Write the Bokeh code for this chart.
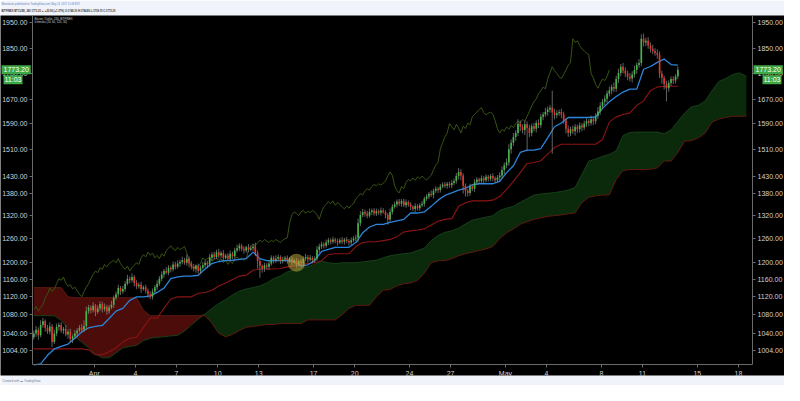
import numpy as np
from bokeh.plotting import figure
from bokeh.models import FixedTicker, PrintfTickFormatter, LogAxis, Label, Range1d, Title
from bokeh.embed import file_html
from bokeh.resources import INLINE

# ------------------------------------------------------------------ data
# BITFINEX BTCUSD, 240-minute candles, first candle opens Mar 27 12:00
first_open = 1032.0
closes = [
    1040, 1048, 1036, 1058, 1066, 1052, 1044, 1055, 1022, 1040,
    1054, 1058, 1046, 1050, 1038, 1044, 1028, 1034, 1040, 1046,
    1052, 1048, 1056, 1088, 1096, 1090, 1100, 1086, 1094, 1104,
    1092, 1098, 1088, 1096, 1102, 1118, 1126, 1140, 1132, 1138,
    1150, 1162, 1158, 1166, 1152, 1144, 1148, 1138, 1142, 1134,
    1126, 1120, 1132, 1142, 1150, 1162, 1172, 1180, 1176, 1188,
    1184, 1196, 1190, 1198, 1202, 1206, 1200, 1210, 1198, 1190,
    1184, 1192, 1180, 1188, 1194, 1200, 1196, 1212, 1220, 1214,
    1226, 1218, 1224, 1212, 1218, 1210, 1222, 1216, 1230, 1236,
    1242, 1234, 1230, 1238, 1232, 1236, 1240, 1224, 1204, 1192,
    1186, 1194, 1190, 1198, 1212, 1206, 1210, 1214, 1204, 1208,
    1212, 1206, 1210, 1200, 1206, 1196, 1204, 1198, 1210, 1214,
    1208, 1212, 1206, 1210, 1232, 1240, 1246, 1242, 1250, 1256,
    1252, 1258, 1254, 1250, 1256, 1252, 1258, 1254, 1250, 1256,
    1260, 1262, 1300, 1322, 1330, 1326, 1320, 1330, 1334, 1326,
    1332, 1328, 1334, 1330, 1322, 1310, 1330, 1344, 1350, 1358,
    1352, 1360, 1348, 1356, 1350, 1344, 1338, 1346, 1340, 1348,
    1352, 1366, 1372, 1380, 1376, 1388, 1394, 1390, 1400, 1406,
    1402, 1408, 1404, 1410, 1416, 1430, 1442, 1432, 1402, 1388,
    1382, 1400, 1394, 1412, 1420, 1416, 1424, 1418, 1428, 1422,
    1430, 1424, 1418, 1426, 1432, 1448, 1462, 1470, 1510, 1530,
    1548, 1560, 1590, 1580, 1570, 1588, 1576, 1560, 1582, 1574,
    1592, 1586, 1612, 1620, 1628, 1636, 1642, 1626, 1618, 1624,
    1628, 1620, 1600, 1574, 1560, 1572, 1566, 1580, 1572, 1584,
    1578, 1590, 1598, 1592, 1604, 1598, 1614, 1630, 1648, 1662,
    1672, 1690, 1700, 1712, 1706, 1740, 1762, 1784, 1770, 1760,
    1748, 1742, 1756, 1772, 1790, 1798, 1888, 1874, 1880, 1862,
    1850, 1842, 1834, 1828, 1760, 1744, 1722, 1708, 1726, 1740,
    1735, 1749.3, 1773.2,
]
wick_up = [
    6, 8, 5, 10, 7, 4, 6, 9, 5, 8,
    7, 5, 6, 4, 8, 5, 6, 4, 7, 5,
    6, 8, 12, 10, 6, 5, 8, 4, 7, 6,
    5, 7, 4, 6, 9, 5, 6, 8, 5, 7,
    6, 9, 5, 8, 4, 6, 5, 7, 4, 6,
    5, 6, 7, 5, 8, 6, 7, 5, 9, 6,
    5, 7, 6, 8, 5, 9, 6, 10, 5, 6,
    7, 4, 6, 5, 8, 6, 5, 9, 6, 7,
    6, 8, 5, 7, 4, 6, 8, 5, 7, 9,
    6, 5, 7, 4, 8, 6, 7, 10, 6, 5,
    4, 6, 5, 7, 6, 5, 8, 6, 4, 7,
    5, 6, 4, 7, 5, 6, 4, 5, 6, 8,
    5, 7, 4, 6, 9, 7, 6, 5, 8, 6,
    5, 7, 4, 6, 5, 8, 4, 6, 5, 7,
    6, 8, 12, 10, 8, 6, 7, 9, 5, 6,
    7, 5, 8, 6, 4, 5, 9, 7, 8, 6,
    7, 5, 6, 8, 5, 6, 4, 7, 5, 6,
    8, 6, 7, 5, 9, 6, 7, 5, 8, 6,
    7, 5, 6, 8, 7, 9, 12, 8, 6, 7,
    5, 8, 6, 9, 7, 5, 8, 6, 7, 5,
    6, 8, 5, 7, 9, 10, 8, 12, 15, 10,
    12, 9, 14, 10, 8, 12, 9, 10, 8, 11,
    9, 12, 10, 8, 14, 10, 9, 58, 12, 10,
    8, 11, 9, 7, 10, 8, 12, 9, 7, 10,
    8, 10, 9, 7, 12, 8, 10, 14, 12, 10,
    12, 10, 14, 9, 16, 12, 15, 10, 14, 12,
    10, 14, 12, 16, 10, 14, 17, 20, 12, 14,
    12, 15, 10, 14, 12, 10, 8, 12, 10, 9,
    10, 8, 11.6,
]
wick_dn = [
    5, 7, 9, 4, 6, 8, 5, 6, 10, 4,
    6, 8, 5, 7, 4, 9, 6, 8, 5, 7,
    4, 6, 5, 8, 6, 7, 5, 9, 4, 6,
    7, 5, 8, 6, 4, 7, 5, 6, 8, 5,
    6, 4, 7, 5, 8, 6, 5, 9, 4, 6,
    8, 5, 6, 4, 7, 5, 6, 8, 4, 6,
    7, 5, 6, 4, 8, 6, 5, 7, 9, 6,
    5, 8, 6, 7, 4, 6, 9, 5, 7, 6,
    5, 7, 6, 8, 4, 6, 5, 7, 6, 5,
    7, 6, 8, 5, 6, 4, 7, 8, 18, 28,
    10, 8, 6, 7, 5, 8, 6, 5, 7, 6,
    5, 8, 6, 7, 5, 9, 6, 8, 7, 6,
    8, 5, 7, 6, 5, 8, 6, 7, 5, 6,
    7, 5, 6, 8, 4, 6, 7, 5, 8, 6,
    5, 7, 10, 8, 6, 9, 7, 5, 8, 6,
    7, 6, 8, 5, 9, 14, 6, 7, 5, 8,
    6, 8, 5, 7, 6, 9, 5, 8, 6, 7,
    5, 8, 6, 7, 5, 9, 6, 8, 7, 5,
    6, 8, 7, 9, 6, 8, 10, 14, 22, 16,
    10, 8, 7, 9, 6, 8, 7, 9, 6, 8,
    7, 9, 8, 6, 10, 8, 12, 9, 10, 14,
    10, 12, 9, 14, 11, 16, 70, 12, 10, 9,
    12, 10, 9, 11, 8, 12, 10, 130, 14, 10,
    9, 12, 10, 15, 12, 10, 9, 14, 11, 10,
    12, 9, 11, 10, 8, 12, 10, 9, 11, 10,
    12, 14, 10, 13, 11, 10, 14, 12, 10, 13,
    12, 10, 14, 11, 13, 10, 12, 15, 14, 12,
    14, 12, 10, 15, 16, 20, 18, 45, 12, 10,
    12, 10, 9.6,
]

# Ichimoku (20, 60, 120, 30) lines, one reading every 3 candles
ind_every = 3
chikou_shift = 30
tenkan = [
    976, 978, 995, 1008, 1013, 1018, 1030, 1043, 1052, 1055,
    1057, 1072, 1088, 1094, 1112, 1120, 1120, 1122, 1130, 1140,
    1162, 1166, 1168, 1168, 1170, 1185, 1198, 1203, 1205, 1206,
    1208, 1210, 1226, 1210, 1205, 1205, 1205, 1205, 1203, 1192,
    1195, 1205, 1228, 1233, 1238, 1238, 1238, 1250, 1275, 1290,
    1297, 1297, 1302, 1306, 1310, 1327, 1327, 1330, 1345, 1362,
    1375, 1382, 1390, 1395, 1405, 1408, 1408, 1408, 1415, 1440,
    1460, 1500, 1507, 1507, 1512, 1545, 1580, 1592, 1610, 1610,
    1610, 1610, 1612, 1640, 1662, 1680, 1695, 1705, 1705, 1775,
    1785, 1800, 1812, 1792, 1790,
]
kijun = [
    1008, 1008, 1008, 1008, 1008, 1008, 1008, 1008, 1006, 996,
    996, 1002, 1010, 1022, 1030, 1032, 1053, 1073, 1073, 1094,
    1115, 1120, 1120, 1120, 1128, 1130, 1135, 1145, 1152, 1160,
    1168, 1170, 1182, 1185, 1185, 1185, 1186, 1190, 1192, 1195,
    1198, 1200, 1205, 1220, 1222, 1222, 1222, 1240, 1250, 1252,
    1252, 1255, 1258, 1265, 1277, 1280, 1282, 1285, 1295, 1305,
    1310, 1312, 1345, 1355, 1360, 1360, 1360, 1362, 1372, 1392,
    1415, 1440, 1467, 1470, 1475, 1495, 1515, 1525, 1525, 1525,
    1525, 1525, 1525, 1540, 1595, 1612, 1620, 1625, 1650, 1665,
    1700, 1712, 1715, 1715, 1715,
]
span_a = [
    1078, 1078, 1078, 1078, 1068, 1050, 1033, 1022, 1010, 998,
    990, 990, 1000, 1010, 1013, 1015, 1025, 1030, 1032, 1033,
    1035, 1036, 1045, 1058, 1070, 1082, 1094, 1105, 1114, 1124,
    1133, 1138, 1141, 1145, 1152, 1162, 1168, 1178, 1183, 1187,
    1190, 1196, 1204, 1200, 1198, 1200, 1200, 1200, 1202, 1204,
    1206, 1212, 1217, 1220, 1222, 1224, 1230, 1236, 1255, 1268,
    1276, 1280, 1287, 1298, 1308, 1312, 1316, 1320, 1334, 1340,
    1345, 1356, 1366, 1376, 1379, 1381, 1383, 1386, 1390, 1397,
    1435, 1474, 1480, 1488, 1494, 1505, 1552, 1562, 1563, 1563,
    1563, 1563, 1558, 1570, 1597, 1625, 1645, 1650, 1665, 1700,
    1732, 1742, 1756, 1762, 1750,
]
span_b = [
    1141, 1141, 1141, 1141, 1141, 1120, 1118, 1118, 1118, 1118,
    1118, 1118, 1118, 1118, 1118, 1118, 1090, 1078, 1078, 1078,
    1078, 1078, 1078, 1078, 1078, 1078, 1062, 1040, 1033, 1038,
    1046, 1053, 1055, 1057, 1059, 1059, 1061, 1061, 1061, 1061,
    1069, 1069, 1069, 1069, 1069, 1080, 1094, 1101, 1101, 1101,
    1120, 1135, 1137, 1145, 1150, 1152, 1158, 1175, 1200, 1205,
    1205, 1210, 1217, 1222, 1226, 1230, 1234, 1240, 1260, 1275,
    1285, 1297, 1304, 1310, 1314, 1318, 1320, 1322, 1325, 1327,
    1355, 1370, 1374, 1376, 1377, 1420, 1446, 1449, 1449, 1449,
    1450, 1454, 1474, 1474, 1500, 1535, 1536, 1545, 1560, 1595,
    1605, 1610, 1614, 1614, 1614,
]

tick_days = [0, 3, 6, 9, 12, 16, 19, 23, 26, 30, 33, 37, 40, 44, 47]
tick_labels = ["Apr", "4", "7", "10", "13", "17", "20", "24", "27",
               "May", "4", "8", "11", "15", "18"]
price_ticks = [1004, 1040, 1080, 1120, 1160, 1200, 1260, 1320, 1380,
               1430, 1510, 1590, 1670, 1760, 1850, 1950]
last_price = 1773.20
countdown = "11:03"
highlight_candle = [115]
highlight_price = [1200.0]

header_line1 = "Mentalcoin published on TradingView.com, May 13, 2017 15:08 EDT"
header_line2 = ("BITFINEX:BTCUSD, 240  1773.20 \u25b2 +23.90 (+1.37%)  "
                "O:1749.30 H:1784.80 L:1739.70 C:1773.20")
footer_text = "Created with  \u2601 TradingView"
legend_lines = ["Bitcoin / Dollar, 240, BITFINEX", "Ichimoku (20, 60, 120, 30)"]

# ------------------------------------------------------------------ derived
FIRST_DAY = -4.5          # days from Apr 1 00:00 to first candle open
BAR = 1.0 / 6.0           # one 4h candle in days

c = np.array(closes, float)
o = np.r_[first_open, c[:-1]]
h = np.maximum(o, c) + np.array(wick_up, float)
l = np.minimum(o, c) - np.array(wick_dn, float)
n = len(c)


def xpos(idx):
    return FIRST_DAY + (np.asarray(idx, float) + 0.5) * BAR


xc = xpos(np.arange(n))
inc = c >= o

W, H = 784, 385
TOP_BAR, BOT_BAR = 12, 10
AX_W = 32            # width of each price-scale strip
XA_H = 11            # height of date-scale strip
X0, X1 = -4.51, 48.03            # visible time span of the chart pane (days)
Y0, Y1 = 976.5, 1979.0           # visible price span of the chart pane

frame_h = H - TOP_BAR - BOT_BAR
pane_w = W - 2 * AX_W
dpp = (X1 - X0) / pane_w
lpp = (np.log10(Y1) - np.log10(Y0)) / (frame_h - XA_H)
XR = (X0 - AX_W * dpp, X1 + AX_W * dpp)
YR = (10 ** (np.log10(Y0) - XA_H * lpp), Y1)

FONT = "Liberation Sans"
GREEN = "#45b54a"
RED = "#e5332d"
GREY_BG = "#f0f3fa"

p = figure(width=W, height=H, x_range=Range1d(*XR), y_range=Range1d(*YR),
           y_axis_type="log", output_backend="svg", toolbar_location=None,
           background_fill_color="#000000", border_fill_color=GREY_BG,
           min_border_left=0, min_border_right=0, min_border_top=TOP_BAR,
           min_border_bottom=BOT_BAR, outline_line_color=None)
p.grid.visible = False

# cloud
A = np.array(span_a, float)
B = np.array(span_b, float)
xs = xpos(np.arange(len(A)) * ind_every)
upper = np.maximum(A, B)
p.varea(x=xs, y1=B, y2=upper, fill_color="#0b2a0b", fill_alpha=1.0)
p.varea(x=xs, y1=A, y2=upper, fill_color="#4b0c0a", fill_alpha=1.0)
p.line(xs, A, line_color="#17401a", line_width=1)
p.line(xs, B, line_color="#5e1a10", line_width=1)

# lagging span
p.line(xc[:-chikou_shift], c[chikou_shift:], line_color="#375414", line_width=1)

# kijun / tenkan
xt = xpos(np.arange(len(tenkan)) * ind_every)
p.line(xt, np.array(kijun, float), line_color="#8c1414", line_width=1.1)
p.line(xt, np.array(tenkan, float), line_color="#2a86dc", line_width=1.3)

# candles
p.segment(xc, h, xc, l, line_color="#8e8e8e", line_width=0.7)
bw = 0.12
p.vbar(x=xc[inc], width=bw, top=c[inc], bottom=o[inc], fill_color=GREEN, line_color=None)
p.vbar(x=xc[~inc], width=bw, top=o[~inc], bottom=c[~inc], fill_color=RED, line_color=None)

# highlight
p.scatter(x=xpos(highlight_candle), y=highlight_price, size=18, marker="circle",
          fill_color="#b9a33a", fill_alpha=0.55, line_color=None)

# axes: drawn at the edges of the chart pane
AX_COL = "#6a6a6a"
LAB_COL = "#d2d2d2"
xa = p.xaxis[0]
xa.ticker = FixedTicker(ticks=tick_days)
xa.major_label_overrides = {d: s for d, s in zip(tick_days, tick_labels)}
xa.fixed_location = Y0
xa.bounds = (X0, X1)

ya = p.yaxis[0]
ya.ticker = FixedTicker(ticks=price_ticks)
ya.formatter = PrintfTickFormatter(format="%.2f")
ya.fixed_location = X0
ya.bounds = (Y0, Y1)
right = LogAxis(ticker=FixedTicker(ticks=price_ticks), formatter=PrintfTickFormatter(format="%.2f"),
                fixed_location=X1, bounds=(Y0, Y1))
p.add_layout(right, "right")

for ax in [xa, ya, right]:
    ax.axis_line_color = AX_COL
    ax.major_tick_line_color = AX_COL
    ax.minor_tick_line_color = None
    ax.major_tick_out = 3
    ax.major_tick_in = 0
    ax.major_label_standoff = 2
    ax.major_label_text_color = LAB_COL
    ax.major_label_text_font = FONT
    ax.major_label_text_font_size = "7px"

# last price boxes on both price scales
BOX = "#3da846"
for xv, off in [(X0, -31), (X1, 1)]:
    p.add_layout(Label(x=xv, y=last_price, x_offset=off, text="%.2f" % last_price,
                       text_font=FONT, text_font_size="7px", text_color="white",
                       text_align="left", text_baseline="middle",
                       background_fill_color=BOX, padding=2))
for xv, off in [(X0, -29), (X1, 10)]:
    p.add_layout(Label(x=xv, y=last_price, x_offset=off, y_offset=-10, text=countdown,
                       text_font=FONT, text_font_size="7px", text_color="white",
                       text_align="left", text_baseline="middle",
                       background_fill_color=BOX, padding=1))

# legend texts top-left of the pane
for k, t in enumerate(legend_lines):
    p.add_layout(Label(x=X0, y=Y1, x_offset=2, y_offset=-1.5 - 3 * k, text=t,
                       text_font=FONT, text_font_size="2.8px", text_color="#cccccc",
                       text_align="left", text_baseline="top"))

# header (two lines) and footer
p.add_layout(Title(text=header_line2, align="left", offset=1, standoff=5,
                   text_font=FONT, text_font_size="2.6px", text_font_style="bold",
                   text_color="#333333"), "above")
p.add_layout(Title(text=header_line1, align="left", offset=1, standoff=0,
                   text_font=FONT, text_font_size="2.6px", text_font_style="normal",
                   text_color="#5b7fc0"), "above")
p.add_layout(Title(text=footer_text, align="left", offset=2, standoff=3,
                   text_font=FONT, text_font_size="3px", text_font_style="normal",
                   text_color="#6a7f9a"), "below")

open("out.html", "w").write(file_html(p, INLINE))
